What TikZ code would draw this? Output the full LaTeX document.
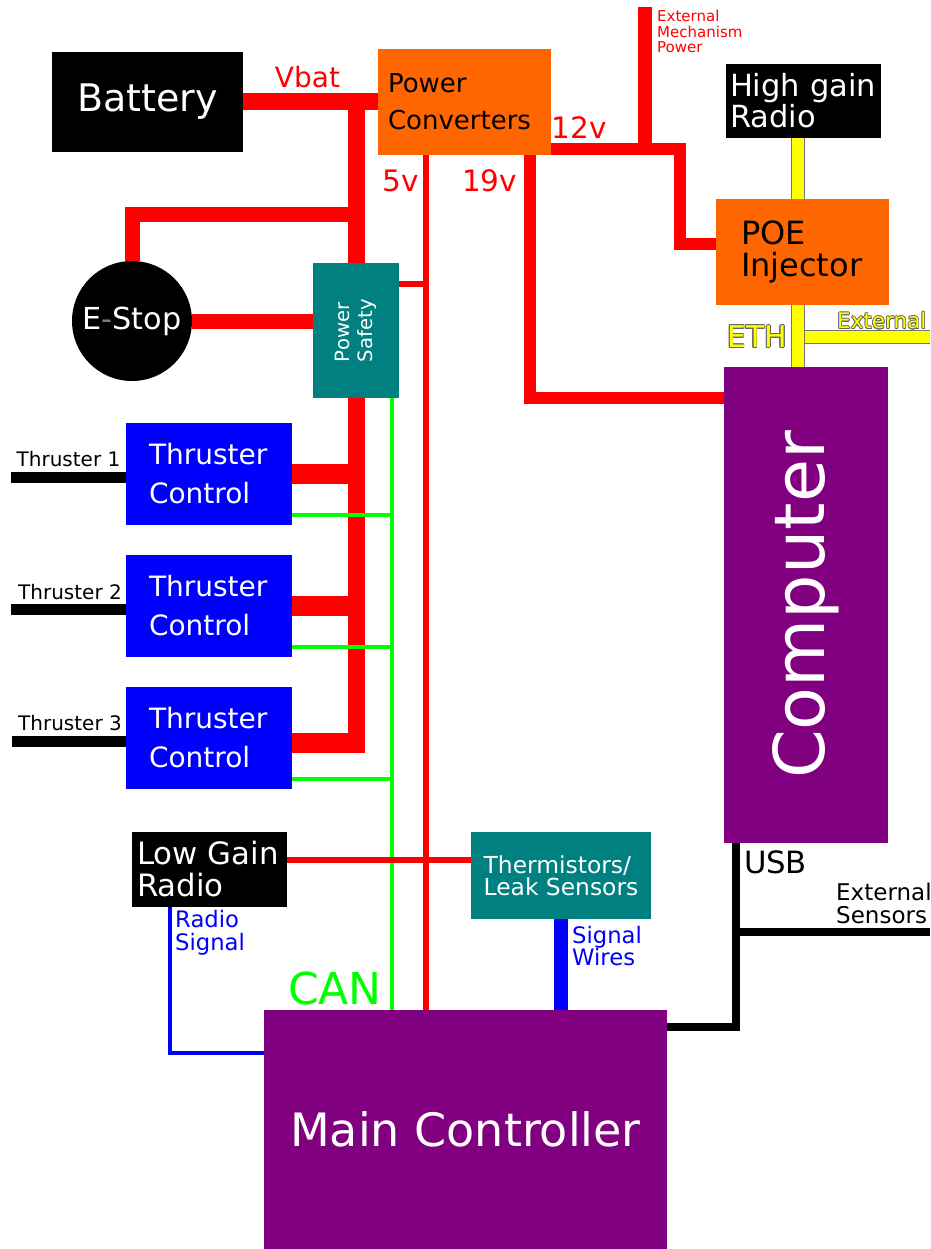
\documentclass[tikz,border=0pt]{standalone}
\usepackage{fontspec}
\setmainfont{DejaVu Sans}
\usepackage{contour}
\contourlength{0.7pt}
\usetikzlibrary{positioning,calc}
\definecolor{pwrred}{HTML}{FF0000}
\definecolor{conv}{HTML}{FF6600}
\definecolor{safety}{HTML}{008080}
\definecolor{ctrl}{HTML}{0000FF}
\definecolor{canbus}{HTML}{00FF00}
\definecolor{cpu}{HTML}{800080}
\definecolor{ethy}{HTML}{FFFF00}
\newcommand{\fsz}[2]{\fontsize{#1}{#2}\selectfont}

\begin{document}
\begin{tikzpicture}[x=1pt,y=-1pt,
  box/.style={inner sep=0pt,outer sep=0pt},
  tcbox/.style={box,fill=ctrl,text=white,minimum width=166pt,minimum height=102pt,text width=120pt,inner xsep=23pt,align=left,font=\fsz{28}{39}},
  bus/.style={draw=pwrred,line width=17pt},
  tcw/.style={draw=pwrred,line width=20pt},
  stopw/.style={draw=pwrred,line width=15pt},
  v5/.style={draw=pwrred,line width=6pt},
  v12/.style={draw=pwrred,line width=12pt},
  v19/.style={draw=pwrred,line width=11.5pt},
  mech/.style={draw=pwrred,line width=14pt},
  can/.style={draw=canbus,line width=4pt},
  ethw/.style={draw=black!55,line width=1pt,double=ethy,double distance=12pt},
  thr/.style={draw=black,line width=11pt},
  usb/.style={draw=black,line width=8pt},
  sigw/.style={draw=ctrl,line width=14pt},
  radio/.style={draw=ctrl,line width=3.5pt},
  voltlbl/.style={text=pwrred,inner sep=0pt,font=\fsz{29.5}{30}},
  bluelbl/.style={text=ctrl,inner sep=0pt,align=left,anchor=west,font=\fsz{22.7}{23}},
  thlbl/.style={inner sep=0pt,font=\fsz{20}{20}}]
\useasboundingbox (0,0) rectangle (930,1249);

% blocks
\node[box,fill=black,text=white,minimum width=191pt,minimum height=100pt,font=\fsz{38}{40}] (bat) at (147.5,102) {Battery};
\node[box,fill=conv,minimum width=173pt,minimum height=106pt,text width=153pt,inner xsep=10pt,align=left,font=\fsz{26}{37}] (pc) at (464.5,102) {Power\\Converters};
\node[box,fill=black,text=white,minimum width=155pt,minimum height=74pt,text width=147pt,inner xsep=4pt,align=left,font=\fsz{30.5}{31}] (hgr) at (803.5,101) {High gain\\Radio};
\node[box,fill=conv,minimum width=173pt,minimum height=106pt,text width=123pt,inner xsep=25pt,align=left,font=\fsz{32}{32}] (poe) at (802.5,252) {POE\\Injector};
\node[box,fill=cpu,text=white,minimum width=164pt,minimum height=476pt,font=\fsz{70}{70}] (comp) at (806,605) {\rotatebox{90}{Computer}};
\node[box,fill=safety,text=white,minimum width=86pt,minimum height=135pt,font=\fsz{19.7}{23}] (ps) at (356,330.5) {\rotatebox{90}{\begin{tabular}{@{}l@{}}Power\\Safety\end{tabular}}};
\node[circle,fill=black,text=white,minimum size=120pt,inner sep=0pt,outer sep=0pt,font=\fsz{30.3}{32}] (estop) at (132,321) {E{\color{gray}-}Stop};
\node[tcbox] (tc1) at (209,474) {Thruster\\Control};
\node[tcbox,below=30pt of tc1] (tc2) {Thruster\\Control};
\node[tcbox,below=30pt of tc2] (tc3) {Thruster\\Control};
\node[box,fill=black,text=white,minimum width=155pt,minimum height=75pt,text width=145pt,inner xsep=5pt,align=left,font=\fsz{30.8}{32}] (lgr) at (209.5,869.5) {Low Gain\\Radio};
\node[box,fill=safety,text=white,minimum width=180pt,minimum height=87pt,align=left,font=\fsz{23.4}{22}] (therm) at (561,875.5) {Thermistors/\\Leak Sensors};
\node[box,fill=cpu,text=white,minimum width=403pt,minimum height=239pt,font=\fsz{46}{46}] (mc) at (465.5,1129.5) {Main Controller};

% junctions and free ends
\coordinate (x5) at (425.5,284);
\coordinate (j19) at (530,398);
\coordinate (j12) at (680,149);
\coordinate (k12) at (680,244);
\coordinate (mechtop) at (645,7);
\coordinate (xeth) at (798,337);
\coordinate (ethout) at (930,337);
\coordinate (jstop) at (356,215);
\coordinate (b3) at (356,743);
\coordinate (xcan) at (391.5,0);
\coordinate (c1) at ([yshift=10pt]tc1.south east);
\coordinate (c2) at ([yshift=10pt]tc2.south east);
\coordinate (c3) at ([yshift=10pt]tc3.south east);
\coordinate (o1) at (11,477);
\coordinate (o2) at (11,609);
\coordinate (o3) at (12,741);
\coordinate (l5) at ([yshift=9.5pt]lgr.east);
\coordinate (r1) at (170,1053);
\coordinate (u1) at (736,1026.5);
\coordinate (sens) at (930,932);

% power
\draw[bus] (bat.east) -- (bat.east -| pc.west);
\draw[bus] (ps.north) -- (ps.north |- bat.east);
\draw[stopw] (estop.north) |- (jstop);
\draw[stopw] (estop.east) -- (estop.east -| ps.west);
\draw[bus] (ps.south) -- ([yshift=-10pt]b3);
\draw[tcw] (tc1.east) -- (tc1.east -| ps.south);
\draw[tcw] (tc2.east) -- (tc2.east -| ps.south);
\draw[tcw] ([yshift=-5pt]tc3.east) -- ([xshift=8pt]b3);
\draw[v19] (pc.south -| j19) |- (comp.west |- j19);
\draw[mech] (mechtop) -- (mechtop |- j12);
\draw[v12] (pc.east |- j12) -- (j12) -- (k12) -- (poe.west |- k12);

% can bus
\draw[can] (ps.south -| xcan) -- (mc.north -| xcan);
\draw[can] (c1) -- (c1 -| xcan);
\draw[can] (c2) -- (c2 -| xcan);
\draw[can] (c3) -- (c3 -| xcan);

% 5v
\draw[v5] (pc.south -| x5) -- (mc.north -| x5);
\draw[v5] (ps.east |- x5) -- (x5);
\draw[v5] (l5) -- (l5 -| therm.west);

% ethernet
\draw[ethw] (xeth) -- (ethout);
\draw[ethw] (hgr.south -| xeth) -- (poe.north -| xeth);
\draw[ethw] (poe.south -| xeth) -- (comp.north -| xeth);

% signals
\draw[thr] (o1) -- (o1 -| tc1.west);
\draw[thr] (o2) -- (o2 -| tc2.west);
\draw[thr] (o3) -- (o3 -| tc3.west);
\draw[sigw] (therm.south) -- (therm.south |- mc.north);
\draw[radio] (lgr.south -| r1) |- (mc.west |- r1);
\draw[usb] (comp.south -| u1) |- (mc.east |- u1);
\draw[usb] (sens -| u1) -- (sens);

% labels
\node[voltlbl,font=\fsz{28}{28}] (vbat) at (307.5,77) {Vbat};
\node[voltlbl] (l5v) at (401,181) {5v};
\node[voltlbl] (l19v) at (489.5,181) {19v};
\node[voltlbl] (l12v) at (579,128) {12v};
\node[text=pwrred,inner sep=0pt,align=left,anchor=north west,font=\fsz{15}{15.5}] (mechlbl) at (657,10) {External\\Mechanism\\Power};
\node[text=ethy,inner sep=0pt,font=\fsz{30}{30}] (ethlbl) at (757,337) {\contour{black!60}{ETH}};
\node[text=ethy,inner sep=0pt,anchor=west,font=\fsz{21.5}{22}] (extlbl) at (837,321) {\contour{black!60}{External}};
\node[text=canbus,inner sep=0pt,font=\fsz{44}{44}] (canlbl) at (335,988) {CAN};
\node[inner sep=0pt,font=\fsz{30.7}{30}] (usblbl) at (775.5,862) {USB};
\node[inner sep=0pt,align=left,anchor=west,font=\fsz{23}{23}] (senslbl) at (836,903.5) {External\\Sensors};
\node[bluelbl,font=\fsz{22.7}{22}] (siglbl) at (572,946) {Signal\\Wires};
\node[bluelbl] (radlbl) at (175,932.5) {Radio\\Signal};
\node[thlbl] (th1) at (68.5,459) {Thruster 1};
\node[thlbl] (th2) at (70,592) {Thruster 2};
\node[thlbl] (th3) at (70,723) {Thruster 3};
\end{tikzpicture}
\end{document}
